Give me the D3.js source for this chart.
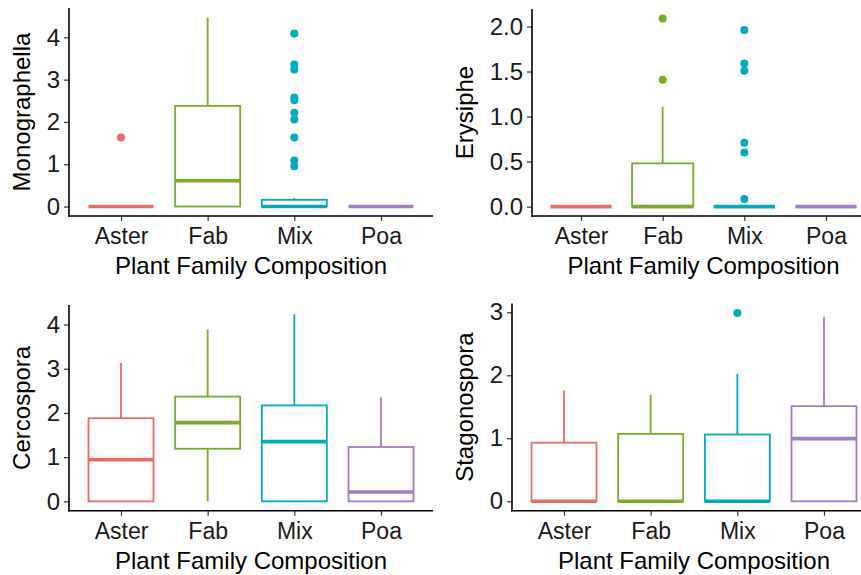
<!DOCTYPE html>
<html>
<head>
<meta charset="utf-8">
<script src="https://cdn.jsdelivr.net/npm/d3@7/dist/d3.min.js"></script>
<style>
  body { margin: 0; background: #fff; }
  svg { display: block; font-family: "Liberation Sans", Arial, sans-serif; }
  .tick text { fill: #1a1a1a; }
</style>
</head>
<body>
<div id="chart"></div>
<script>
// categories and colours
var categories = ["Aster", "Fab", "Mix", "Poa"];
var colors = ["#E96B67", "#7AAC29", "#00ABBE", "#A57BC4"];
var xTitle = "Plant Family Composition";

// box stats per category: [lower whisker, q1, median, q3, upper whisker]
var monoStats = [[0, 0, 0, 0, 0], [0, 0, 0.61, 2.38, 4.47], [0, 0, 0, 0.16, 0.2], [0, 0, 0, 0, 0]];
var monoOutliers = [[1.63], [], [4.09, 3.36, 3.24, 2.58, 2.51, 2.22, 2.06, 1.63, 1.09, 0.95], []];
var monoTicks = [0, 1, 2, 3, 4];

var erysStats = [[0, 0, 0, 0, 0], [0, 0, 0, 0.48, 1.11], [0, 0, 0, 0, 0], [0, 0, 0, 0, 0]];
var erysOutliers = [[], [2.09, 1.41], [1.96, 1.59, 1.51, 0.71, 0.6, 0.085], []];
var erysTicks = [0, 0.5, 1, 1.5, 2];

var cercStats = [[0, 0, 0.94, 1.88, 3.13], [0, 1.19, 1.78, 2.37, 3.89], [0, 0, 1.35, 2.17, 4.23], [0, 0, 0.21, 1.23, 2.35]];
var cercOutliers = [[], [], [], []];
var cercTicks = [0, 1, 2, 3, 4];

var stagStats = [[0, 0, 0, 0.93, 1.76], [0, 0, 0, 1.07, 1.69], [0, 0, 0, 1.06, 2.02], [0, 0, 0.995, 1.51, 2.93]];
var stagOutliers = [[], [], [2.99], []];
var stagTicks = [0, 1, 2, 3];

var W = 861, H = 575;

var svg = d3.select("#chart").append("svg")
    .attr("width", W)
    .attr("height", H);

svg.append("rect").attr("width", W).attr("height", H).attr("fill", "#fff");

function drawPanel(opt) {
    var g = svg.append("g");

    // y range with 5% expansion like ggplot
    var maxV = d3.max(opt.stats, function(d) { return d[4]; });
    opt.outliers.forEach(function(o) { if (o.length) maxV = Math.max(maxV, d3.max(o)); });
    var pad = maxV * 0.05;

    var y = d3.scaleLinear()
        .domain([-pad, maxV + pad])
        .range([opt.bottom, opt.top]);

    var x = d3.scalePoint()
        .domain(categories)
        .range([opt.left, opt.right])
        .padding(0.6);

    var bw = x.step() * 0.75;

    // boxes
    categories.forEach(function(c, i) {
        var s = opt.stats[i];
        var cx = x(c);
        var col = colors[i];
        // whiskers
        g.append("line")
            .attr("x1", cx).attr("x2", cx)
            .attr("y1", y(s[3])).attr("y2", y(s[4]))
            .attr("stroke", col).attr("stroke-width", 1.8);
        g.append("line")
            .attr("x1", cx).attr("x2", cx)
            .attr("y1", y(s[0])).attr("y2", y(s[1]))
            .attr("stroke", col).attr("stroke-width", 1.8);
        g.append("rect")
            .attr("x", cx - bw / 2)
            .attr("y", y(s[3]))
            .attr("width", bw)
            .attr("height", Math.max(0, y(s[1]) - y(s[3])))
            .attr("fill", "#fff")
            .attr("stroke", col)
            .attr("stroke-width", 1.8);
        g.append("line")
            .attr("x1", cx - bw / 2).attr("x2", cx + bw / 2)
            .attr("y1", y(s[2])).attr("y2", y(s[2]))
            .attr("stroke", col).attr("stroke-width", 3.6);

        // outliers
        g.selectAll(null)
            .data(opt.outliers[i])
            .enter().append("circle")
            .attr("cx", cx)
            .attr("cy", function(d) { return y(d); })
            .attr("r", 4)
            .attr("fill", col);
    });

    // axes
    var yAxis = d3.axisLeft(y).tickValues(opt.ticks).tickSize(5).tickPadding(4)
        .tickFormat(opt.fmt ? d3.format(opt.fmt) : d3.format("d"));
    var xAxis = d3.axisBottom(x).tickSize(5).tickPadding(7);

    var ya = g.append("g")
        .attr("transform", "translate(" + opt.left + ",0)")
        .call(yAxis);
    ya.select(".domain").remove();
    ya.append("line")
        .attr("x1", 0).attr("x2", 0)
        .attr("y1", opt.top).attr("y2", opt.bottom + 0.8)
        .attr("stroke", "#000").attr("stroke-width", 1.6);
    ya.selectAll(".tick line").attr("stroke", "#333").attr("stroke-width", 1.2);
    ya.selectAll(".tick text").style("font-size", "24px");

    var xa = g.append("g")
        .attr("transform", "translate(0," + opt.bottom + ")")
        .call(xAxis);
    xa.select(".domain").remove();
    xa.append("line")
        .attr("x1", opt.left - 0.8).attr("x2", opt.right)
        .attr("y1", 0).attr("y2", 0)
        .attr("stroke", "#000").attr("stroke-width", 1.6);
    xa.selectAll(".tick line").attr("stroke", "#333").attr("stroke-width", 1.2);
    xa.selectAll(".tick text").style("font-size", "23px");

    // axis titles
    g.append("text")
        .attr("x", (opt.left + opt.right) / 2)
        .attr("y", opt.bottom + 58)
        .attr("text-anchor", "middle")
        .style("font-size", "24px")
        .attr("fill", "#000")
        .text(xTitle);

    g.append("text")
        .attr("transform", "translate(" + opt.titleX + "," + ((opt.top + opt.bottom) / 2) + ") rotate(-90)")
        .attr("text-anchor", "middle")
        .style("font-size", "24px")
        .attr("fill", "#000")
        .text(opt.title);
}

drawPanel({ title: "Monographella", stats: monoStats, outliers: monoOutliers, ticks: monoTicks,
    left: 69, right: 433, top: 8, bottom: 216, titleX: 30 });
drawPanel({ title: "Erysiphe", stats: erysStats, outliers: erysOutliers, ticks: erysTicks, fmt: ".1f",
    left: 532, right: 875, top: 9, bottom: 216, titleX: 473 });
drawPanel({ title: "Cercospora", stats: cercStats, outliers: cercOutliers, ticks: cercTicks,
    left: 69, right: 433, top: 305, bottom: 510.7, titleX: 30 });
drawPanel({ title: "Stagonospora", stats: stagStats, outliers: stagOutliers, ticks: stagTicks,
    left: 512, right: 876, top: 303.5, bottom: 510.7, titleX: 473 });
</script>
</body>
</html>
